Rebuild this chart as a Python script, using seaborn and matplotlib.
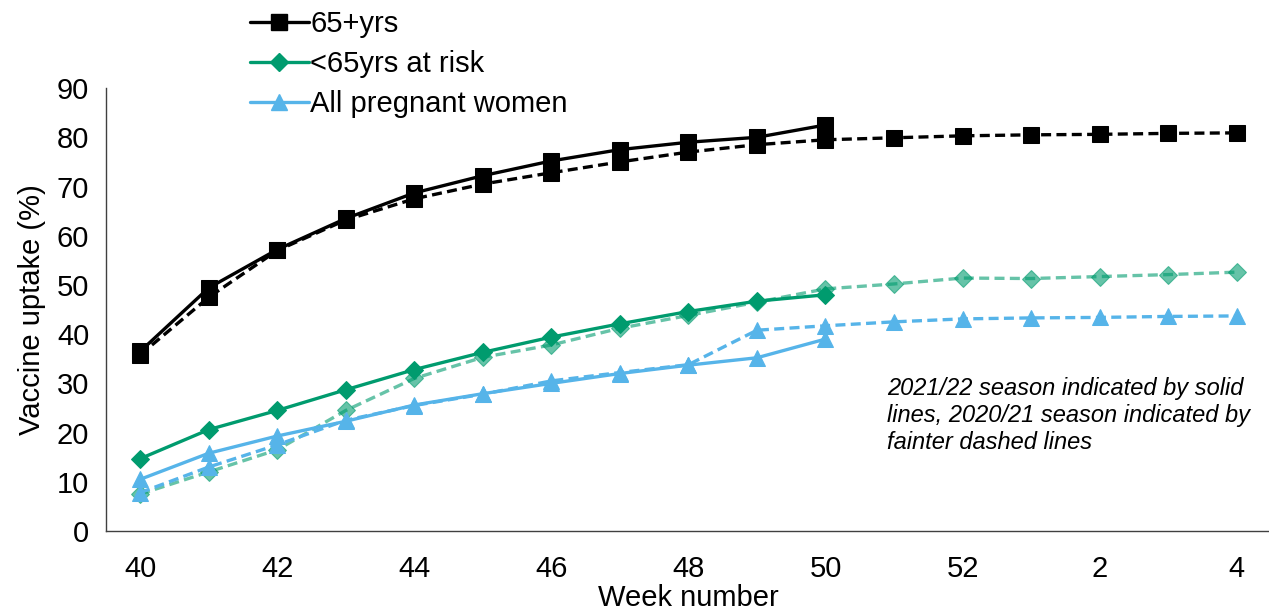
import numpy as np
import pandas as pd
import seaborn as sns
import matplotlib.pyplot as plt
from matplotlib.lines import Line2D

# Week labels (season runs week 40 to week 4 of next year)
weeks = ['40', '41', '42', '43', '44', '45', '46', '47', '48', '49', '50',
         '51', '52', '1', '2', '3', '4']

# 2021/22 season (solid lines), weeks 40-50
over65_2122 = [36.5, 49.4, 57.2, 63.5, 68.7, 72.2, 75.2, 77.5, 79.0, 80.0, 82.5]
risk_2122 = [14.7, 20.6, 24.5, 28.7, 32.8, 36.3, 39.4, 42.1, 44.6, 46.7, 48.0]
preg_2122 = [10.5, 15.8, 19.3, 22.3, 25.6, 27.9, 30.0, 32.0, 33.7, 35.2, 39.0]

# 2020/21 season (fainter dashed lines), weeks 40-4
over65_2021 = [35.8, 47.5, 57.0, 63.2, 67.5, 70.5, 72.8, 75.0, 77.0, 78.5, 79.5,
               79.9, 80.3, 80.5, 80.6, 80.8, 80.9]
risk_2021 = [7.5, 12.0, 16.5, 24.5, 31.0, 35.3, 37.8, 41.2, 43.8, 46.5, 49.2,
             50.2, 51.4, 51.3, 51.7, 52.1, 52.6]
preg_2021 = [7.8, 13.0, 17.5, 22.5, 25.5, 27.8, 30.5, 32.2, 33.8, 40.8, 41.7,
             42.5, 43.1, 43.3, 43.4, 43.6, 43.7]

labels = ['65+yrs', '<65yrs at risk', 'All pregnant women']
colors = ['#000000', '#009B6E', '#56B4E9']
markers = ['s', 'D', '^']
msizes = [11, 9, 11]

sns.set_style('white')
plt.rcParams['font.family'] = ['Liberation Sans', 'DejaVu Sans']
plt.rcParams['text.color'] = 'black'
plt.rcParams['axes.labelcolor'] = 'black'
plt.rcParams['xtick.color'] = 'black'
plt.rcParams['ytick.color'] = 'black'

fig = plt.figure(figsize=(12.69, 6.16), dpi=100)
ax = fig.add_axes([0.0835, 0.138, 0.918, 0.719])

old = [over65_2021, risk_2021, preg_2021]
new = [over65_2122, risk_2122, preg_2122]
alphas = [1.0, 0.6, 1.0]

# dashed previous season first
for vals, c, m, ms, a in zip(old, colors, markers, msizes, alphas):
    df = pd.DataFrame({'x': np.arange(len(vals)), 'y': vals})
    sns.lineplot(data=df, x='x', y='y', ax=ax, color=c, marker=m, markersize=ms,
                 markeredgecolor=c, linewidth=2.4, linestyle=(0, (3, 1.6)),
                 alpha=a)

for vals, c, m, ms in zip(new, colors, markers, msizes):
    df = pd.DataFrame({'x': np.arange(len(vals)), 'y': vals})
    sns.lineplot(data=df, x='x', y='y', ax=ax, color=c, marker=m, markersize=ms,
                 markeredgecolor=c, linewidth=2.4)

ax.set_xlim(-0.5, len(weeks) - 0.5)
ax.set_ylim(0, 90)
ax.set_yticks(range(0, 91, 10))
ax.set_xticks(range(0, len(weeks), 2))
ax.set_xticklabels(weeks[::2])
ax.set_xticks(np.arange(-0.5, len(weeks), 1), minor=True)
ax.tick_params(axis='x', which='major', length=0, labelsize=21, pad=17)
ax.tick_params(axis='x', which='minor', length=8, width=1, color='#404040',
               direction='out')
ax.tick_params(axis='y', length=8, width=1, color='#404040', direction='out',
               labelsize=21, pad=4)
for s in ['top', 'right']:
    ax.spines[s].set_visible(False)
for s in ['left', 'bottom']:
    ax.spines[s].set_color('#404040')
    ax.spines[s].set_linewidth(1)

ax.set_xlabel('Week number', fontsize=21, labelpad=1)
ax.set_ylabel('Vaccine uptake (%)', fontsize=21, labelpad=8)

ax.text(10.9, 31.2, '2021/22 season indicated by solid\n'
        'lines, 2020/21 season indicated by\nfainter dashed lines',
        fontsize=17, style='italic', va='top', ha='left', linespacing=1.2)

handles = [Line2D([0], [0], color=c, marker=m, markersize=ms, linewidth=2.4)
           for c, m, ms in zip(colors, markers, msizes)]
fig.legend(handles, labels, loc='upper left', bbox_to_anchor=(0.188, 1.003),
           frameon=False, fontsize=21, handlelength=2.0, handletextpad=0.05,
           labelspacing=0.42, borderaxespad=0)

fig.savefig('out.png', dpi=100)
